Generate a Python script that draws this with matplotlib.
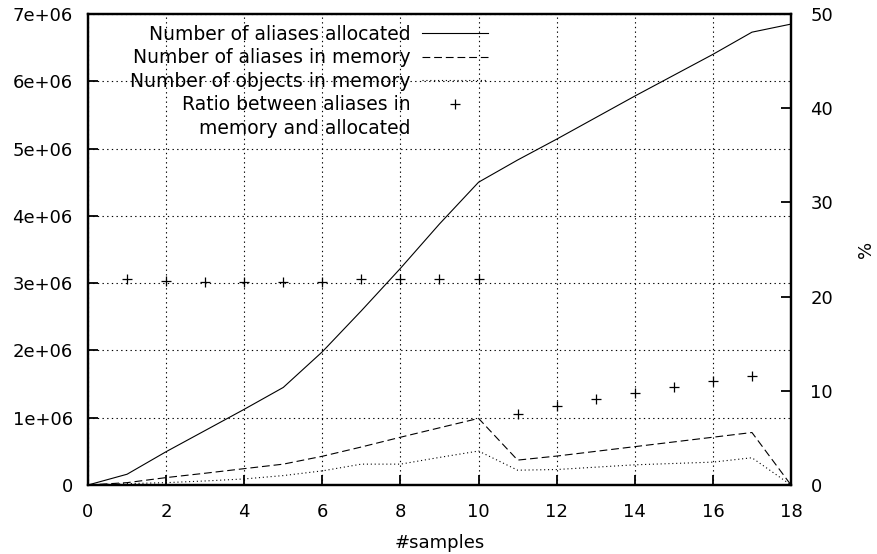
import numpy as np
import matplotlib.pyplot as plt

plt.rcParams['font.family'] = ['DejaVu Sans']
plt.rcParams['font.size'] = 13

# data
samples = np.arange(0, 19)
aliases_allocated = [0, 0.16, 0.495, 0.81, 1.125, 1.45, 1.98, 2.59, 3.22, 3.88, 4.5,
                     4.83, 5.14, 5.46, 5.78, 6.09, 6.4, 6.73, 6.85]
aliases_in_memory = [0, 0.035, 0.11, 0.175, 0.243, 0.31, 0.427, 0.565, 0.71, 0.85, 0.99,
                     0.37, 0.43, 0.50, 0.57, 0.64, 0.71, 0.78, 0]
objects_in_memory = [0, 0.02, 0.035, 0.06, 0.09, 0.14, 0.21, 0.31, 0.31, 0.41, 0.505,
                     0.22, 0.23, 0.265, 0.30, 0.32, 0.34, 0.405, 0]
ratio_samples = np.arange(1, 18)
ratio = [21.84, 21.66, 21.55, 21.55, 21.52, 21.55, 21.84, 21.87, 21.84, 21.87,
         7.54, 8.39, 9.13, 9.8, 10.44, 11.04, 11.6]

y_ticks = np.arange(0, 8) * 1e6
y_labels = ['0'] + [f'{i}e+06' for i in range(1, 8)]
x_ticks = np.arange(0, 19, 2)
y2_ticks = np.arange(0, 51, 10)

fig = plt.figure(figsize=(8.78, 5.54), dpi=100)
ax = fig.add_axes([88/878, 1-485/554, 703/878, 471/554])
ax2 = ax.twinx()

l1, = ax.plot(samples, np.array(aliases_allocated)*1e6, color='black', lw=0.8)
l2, = ax.plot(samples, np.array(aliases_in_memory)*1e6, color='black', lw=0.8,
              ls=(0, (7, 3.5)))
l3, = ax.plot(samples, np.array(objects_in_memory)*1e6, color='black', lw=0.8,
              ls=(0, (1, 2.5)))
l4, = ax2.plot(ratio_samples, ratio, ls='none', marker='+', ms=7, mew=0.9, color='black')
blank, = ax2.plot([], [], ls='none')

ax.set_xlim(0, 18)
ax.set_ylim(0, 7e6)
ax2.set_ylim(0, 50)
ax.set_xticks(x_ticks)
ax.set_yticks(y_ticks)
ax.set_yticklabels(y_labels)
ax2.set_yticks(y2_ticks)

ax.grid(True, color='black', lw=0.8, ls=(0, (1.2, 3)))
ax.tick_params(axis='x', direction='in', length=7, width=1.3, pad=13)
ax.tick_params(axis='y', direction='in', length=7, width=1.3, pad=11)
ax2.tick_params(axis='y', direction='in', length=7, width=1.3, pad=14)
for a in (ax, ax2):
    for s in a.spines.values():
        s.set_linewidth(1.6)

ax.set_xlabel('#samples', labelpad=9)
ax2.set_ylabel('%')
ax2.yaxis.set_label_coords(1.094, 0.5)

leg = ax2.legend([l1, l2, l3, l4, blank],
                 ['Number of aliases allocated', 'Number of aliases in memory',
                  'Number of objects in memory', 'Ratio between aliases in',
                  'memory and allocated'],
                 loc='upper right', bbox_to_anchor=(400/703, 0.977),
                 frameon=False, markerfirst=False, handlelength=3.5, fontsize=13.5,
                 handletextpad=0.65, labelspacing=0.24, borderpad=0, borderaxespad=0)

fig.savefig('out.png', dpi=100)
